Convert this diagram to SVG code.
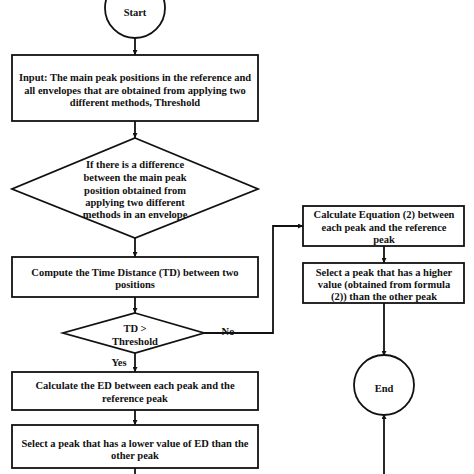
<svg xmlns="http://www.w3.org/2000/svg" width="474" height="474" viewBox="0 0 474 474">
<style>
.s{fill:#fff;stroke:#111;stroke-width:1.8}
.t{font-family:"Liberation Serif","Times New Roman",serif;font-weight:bold;font-size:10.5px;fill:#111;text-anchor:middle}
.c{fill:none;stroke:#111;stroke-width:1.8}
</style>
<defs>
<marker id="a" viewBox="0 0 10 10" refX="10" refY="5" markerWidth="5" markerHeight="5" orient="auto" markerUnits="userSpaceOnUse">
<path d="M0,0 L10,5 L0,10 z" fill="#111"/>
</marker>
</defs>
<rect width="474" height="474" fill="#fff"/>
<g id="connectors">
<line class="c" x1="135" y1="38" x2="135" y2="55" marker-end="url(#a)"/>
<line class="c" x1="135" y1="121" x2="135" y2="138" marker-end="url(#a)"/>
<line class="c" x1="135" y1="238" x2="135" y2="257" marker-end="url(#a)"/>
<line class="c" x1="135" y1="297" x2="135" y2="313" marker-end="url(#a)"/>
<line class="c" x1="135" y1="353" x2="135" y2="372" marker-end="url(#a)"/>
<line class="c" x1="135" y1="410" x2="135" y2="425" marker-end="url(#a)"/>
<line class="c" x1="135" y1="468" x2="135" y2="474"/>
<polyline class="c" points="204,333 273,333 273,226 303,226" marker-end="url(#a)"/>
<line class="c" x1="384" y1="246" x2="384" y2="263" marker-end="url(#a)"/>
<line class="c" x1="384" y1="303" x2="384" y2="356" marker-end="url(#a)"/>
<line class="c" x1="384" y1="474" x2="384" y2="414" marker-end="url(#a)"/>
<text class="t" x="228" y="335" font-size="12">No</text>
<text class="t" x="119" y="366" font-size="12">Yes</text>
</g>
<g id="start">
<circle class="s" cx="135" cy="8" r="30"/>
<text class="t" x="135" y="16" font-size="13">Start</text>
</g>
<g id="input">
<rect class="s" x="12" y="55" width="246" height="66"/>
<text class="t" x="135" y="81">Input: The main peak positions in the reference and</text>
<text class="t" x="135" y="94">all envelopes that are obtained from applying two</text>
<text class="t" x="135" y="106">different methods, Threshold</text>
</g>
<g id="decision1">
<polygon class="s" points="135,138 258,189 135,238 12,189"/>
<text class="t" x="135" y="168">If there is a difference</text>
<text class="t" x="135" y="181">between the main peak</text>
<text class="t" x="135" y="194">position obtained from</text>
<text class="t" x="135" y="206">applying two different</text>
<text class="t" x="135" y="218">methods in an envelope</text>
</g>
<g id="compute">
<rect class="s" x="12" y="257" width="246" height="40"/>
<text class="t" x="135" y="276">Compute the Time Distance (TD) between two</text>
<text class="t" x="135" y="288">positions</text>
</g>
<g id="decision2">
<polygon class="s" points="135,313 204,333 135,353 63,333"/>
<text class="t" x="135" y="332">TD &gt;</text>
<text class="t" x="135" y="345">Threshold</text>
</g>
<g id="calcED">
<rect class="s" x="12" y="372" width="246" height="38"/>
<text class="t" x="135" y="389">Calculate the ED between each peak and the</text>
<text class="t" x="135" y="402">reference peak</text>
</g>
<g id="selectLower">
<rect class="s" x="12" y="425" width="246" height="43"/>
<text class="t" x="135" y="447">Select a peak that has a lower value of ED than the</text>
<text class="t" x="135" y="459">other peak</text>
</g>
<g id="calcEq">
<rect class="s" x="303" y="206" width="161" height="40"/>
<text class="t" x="384" y="218">Calculate Equation (2) between</text>
<text class="t" x="384" y="231">each peak and the reference</text>
<text class="t" x="384" y="243">peak</text>
</g>
<g id="selectHigher">
<rect class="s" x="303" y="263" width="161" height="40"/>
<text class="t" x="384" y="276">Select a peak that has a higher</text>
<text class="t" x="384" y="288">value (obtained from formula</text>
<text class="t" x="384" y="300">(2)) than the other peak</text>
</g>
<g id="end">
<circle class="s" cx="384" cy="385" r="30"/>
<text class="t" x="384" y="392" font-size="13">End</text>
</g>
</svg>
